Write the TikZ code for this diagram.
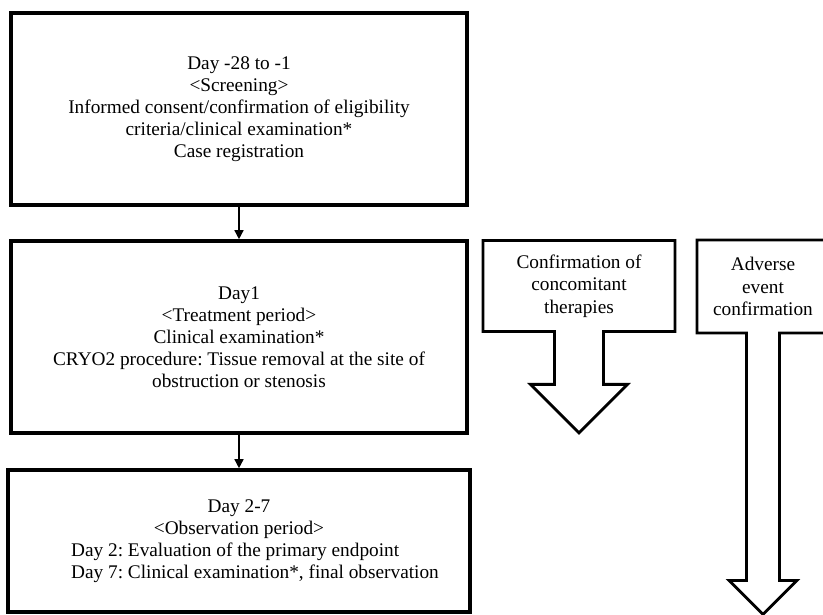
\documentclass[tikz,border=0pt]{standalone}
\usepackage{fontspec}
\setmainfont{Liberation Serif}
\frenchspacing
\usetikzlibrary{arrows.meta,shapes.arrows}

\begin{document}
\begin{tikzpicture}[x=1pt,y=-1pt,line join=miter,>={Triangle[length=9pt,width=9pt]},
  stage/.style={draw,line width=3.6pt,minimum width=456pt,align=center,inner sep=0pt,
    font=\fontsize{19.3}{22}\selectfont},
  track/.style={arrow box,draw,line width=2.8pt,align=center,inner sep=0pt,
    arrow box arrows={south:#1},font=\fontsize{19.3}{22.5}\selectfont},
  flow/.style={->,line width=1.5pt}]
  \useasboundingbox (0,0) rectangle (823,615);
  % study periods
  \node[stage,minimum height=192pt] (screen) at (239,109)
    {Day -28 to -1\\<Screening>\\Informed consent/confirmation of eligibility\\
     criteria/clinical examination*\\Case registration};
  \node[stage,minimum height=192pt] (treat) at (239,337)
    {Day1\\<Treatment period>\\Clinical examination*\\
     CRYO2 procedure: Tissue removal at the site of\\obstruction or stenosis};
  \node[stage,minimum width=462pt,minimum height=142pt] (obs) at (239,541)
    {Day 2-7\\<Observation period>\\
     \hspace*{32pt}\rlap{Day 2: Evaluation of the primary endpoint}\phantom{Day 7: Clinical examination*, final observation}\\
     \hspace*{32pt}Day 7: Clinical examination*, final observation};
  \draw[flow] (screen.south) -- (treat.north);
  \draw[flow] (treat.south) -- (obs.north);
  % ongoing checks
  \node[track=100pt,minimum width=192pt,minimum height=91pt,
    arrow box shaft width=49pt,arrow box head extend=24pt] (conc) at (579,286)
    {Confirmation of\\concomitant\\therapies};
  \node[track=280pt,minimum width=132pt,minimum height=93pt,
    arrow box shaft width=33pt,arrow box head extend=17.5pt] (adverse) at (763,286.5)
    {Adverse\\event\\confirmation};
\end{tikzpicture}
\end{document}
